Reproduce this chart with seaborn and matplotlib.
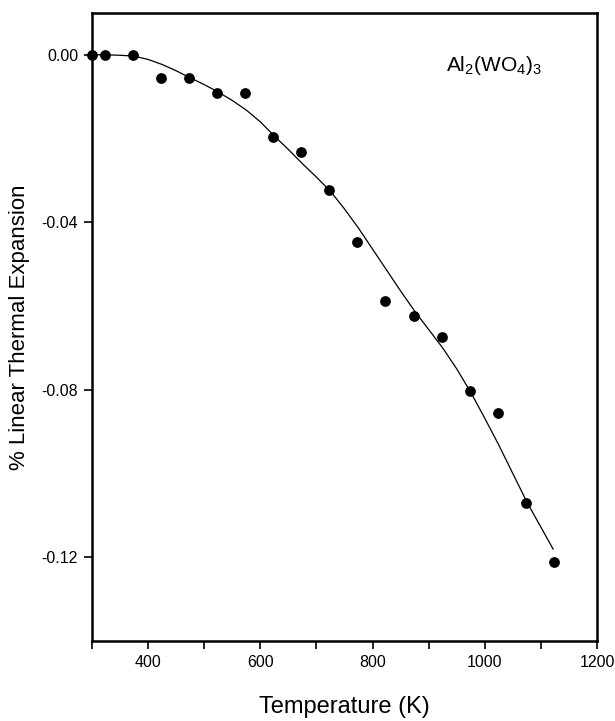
import numpy as np
import pandas as pd
import matplotlib
matplotlib.use("Agg")
import matplotlib.pyplot as plt
from matplotlib.ticker import MultipleLocator
import seaborn as sns

# ── Data ──────────────────────────────────────────────────────────────────────
temp_k = [300, 323, 373, 423, 473, 523, 573, 623, 673, 723,
          773, 823, 873, 923, 973, 1023, 1073, 1123]
expansion = [0.0, 0.0, 0.0, -0.0055, -0.0055, -0.0091, -0.0091, -0.0196, -0.0231, -0.0322,
             -0.0446, -0.0589, -0.0623, -0.0675, -0.0802, -0.0856, -0.1071, -0.1212]

# fitted curve
fit_temp = [300, 325, 350, 375, 400, 425, 450, 475, 500, 525, 550, 575, 600, 625,
            650, 675, 700, 725, 750, 775, 800, 825, 850, 875, 900, 925, 950, 975,
            1000, 1025, 1050, 1075, 1100, 1122]
fit_expansion = [0.0, 0.0, -0.0001, -0.0003, -0.0011, -0.0023, -0.0038, -0.0055,
                 -0.0071, -0.0089, -0.0109, -0.0132, -0.0160, -0.0194, -0.0226, -0.0260,
                 -0.0292, -0.0326, -0.0368, -0.0414, -0.0464, -0.0514, -0.0564, -0.0612,
                 -0.0656, -0.0700, -0.0750, -0.0806, -0.0868, -0.0932, -0.1000, -0.1068,
                 -0.1128, -0.1181]

points = pd.DataFrame({"T": temp_k, "dL": expansion})
fit = pd.DataFrame({"T": fit_temp, "dL": fit_expansion})

# ── Style ─────────────────────────────────────────────────────────────────────
sns.set_theme(style="ticks")
plt.rcParams['font.family'] = ['Liberation Sans', 'DejaVu Sans']
plt.rcParams['mathtext.default'] = 'regular'
plt.rcParams['text.color'] = 'black'
plt.rcParams['axes.labelcolor'] = 'black'

fig = plt.figure(figsize=(6.15, 7.21), dpi=100)
ax = fig.add_axes([0.1496, 0.111, 0.8211, 0.871])

sns.lineplot(data=fit, x="T", y="dL", ax=ax, color="black", linewidth=0.9,
             sort=False, estimator=None)
sns.scatterplot(data=points, x="T", y="dL", ax=ax, color="black", s=60,
                edgecolor="black", linewidth=0, zorder=5, clip_on=False)

ax.set_xlim(300, 1200)
ax.set_ylim(-0.14, 0.01)
ax.xaxis.set_major_locator(MultipleLocator(200))
ax.xaxis.set_minor_locator(MultipleLocator(100))
ax.set_yticks([0.0, -0.04, -0.08, -0.12])
ax.set_yticklabels(["0.00", "-0.04", "-0.08", "-0.12"])

ax.tick_params(axis="both", which="both", direction="out", length=6, width=1.2,
               colors="black", labelsize=11.5, pad=4)
for side in ax.spines.values():
    side.set_linewidth(1.8)
    side.set_color("black")

ax.set_xlabel("Temperature (K)", fontsize=17, labelpad=19, color="black")
ax.set_ylabel("% Linear Thermal Expansion", fontsize=16, labelpad=8, color="black")

ax.text(0.795, 0.916, r"Al$_2$(WO$_4$)$_3$", transform=ax.transAxes,
        fontsize=15, ha="center", va="center", color="black")

fig.savefig("out.png", dpi=100, facecolor="white")
